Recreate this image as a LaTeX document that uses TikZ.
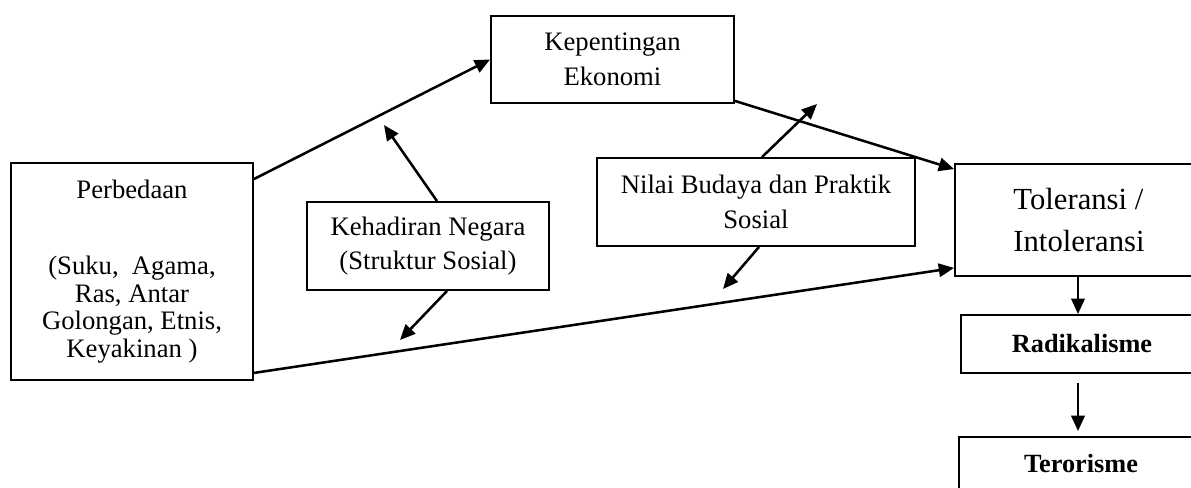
\documentclass[tikz,border=0pt]{standalone}
\usepackage{fontspec}
\setmainfont{Liberation Serif}
\usetikzlibrary{arrows.meta,calc}
\begin{document}
\begin{tikzpicture}[x=0.75pt,y=-0.75pt,
  box/.style={draw,line width=1.4pt,rectangle,inner sep=0pt,align=center},
  conn/.style={line width=1.9pt,-{Triangle[length=11.5pt,width=10pt]}},
  txt/.style={font=\fontsize{20}{26}\selectfont}]
\useasboundingbox (0,0) rectangle (1191,488);
\clip (0,0) rectangle (1191,488);
\node[box,minimum width=181.5pt,minimum height=162.75pt,font=\fontsize{20}{20.6}\selectfont] (perb) at (132,271.5)
  {Perbedaan\\[36.4pt](Suku,\ \ Agama,\\Ras, Antar\\Golongan, Etnis,\\Keyakinan )};
\node[box,txt,minimum width=182.25pt,minimum height=65.25pt] (kep) at (612.5,59.5) {Kepentingan\\Ekonomi};
\node[box,txt,minimum width=181.5pt,minimum height=66pt] (keh) at (428,246) {Kehadiran Negara\\(Struktur Sosial)};
\node[box,txt,minimum width=238.5pt,minimum height=66pt] (nil) at (756,202) {Nilai Budaya dan Praktik\\Sosial};
\node[box,align=left,minimum width=186pt,minimum height=84pt,font=\fontsize{23}{31}\selectfont] (tol) at (1079,220) {Toleransi /\\Intoleransi};
\node[box,minimum width=181.5pt,minimum height=43.5pt,font=\fontsize{19.7}{24}\selectfont\bfseries] (rad) at (1082,344) {Radikalisme};
\node[box,minimum width=183pt,minimum height=40.5pt,font=\fontsize{19.7}{24}\selectfont\bfseries] (ter) at (1081,464) {Terorisme};
\coordinate (kehup) at (384,125);
\coordinate (kehdn) at (400,340);
\coordinate (nilup) at (817,104);
\coordinate (nildn) at (723,289);
\coordinate (vx) at ($(tol.south)+(-1,0)$);
\draw[conn] ($(perb.north east)+(0,17)$) -- (kep.west);
\draw[conn] ($(kep.south east)+(0,-3)$) -- ($(tol.north west)+(0,6)$);
\draw[conn] ($(perb.south east)+(0,-8)$) -- ($(tol.south west)+(0,-9)$);
\draw[conn] ($(keh.north)+(9,0)$) -- (kehup);
\draw[conn] ($(keh.south)+(19,0)$) -- (kehdn);
\draw[conn] ($(nil.north)+(6,0)$) -- (nilup);
\draw[conn] ($(nil.south)+(3,0)$) -- (nildn);
\draw[conn] (vx) -- (vx |- rad.north);
\draw[conn,shorten <=6.75pt,shorten >=3.75pt] (vx |- rad.south) -- (vx |- ter.north);
\end{tikzpicture}
\end{document}
